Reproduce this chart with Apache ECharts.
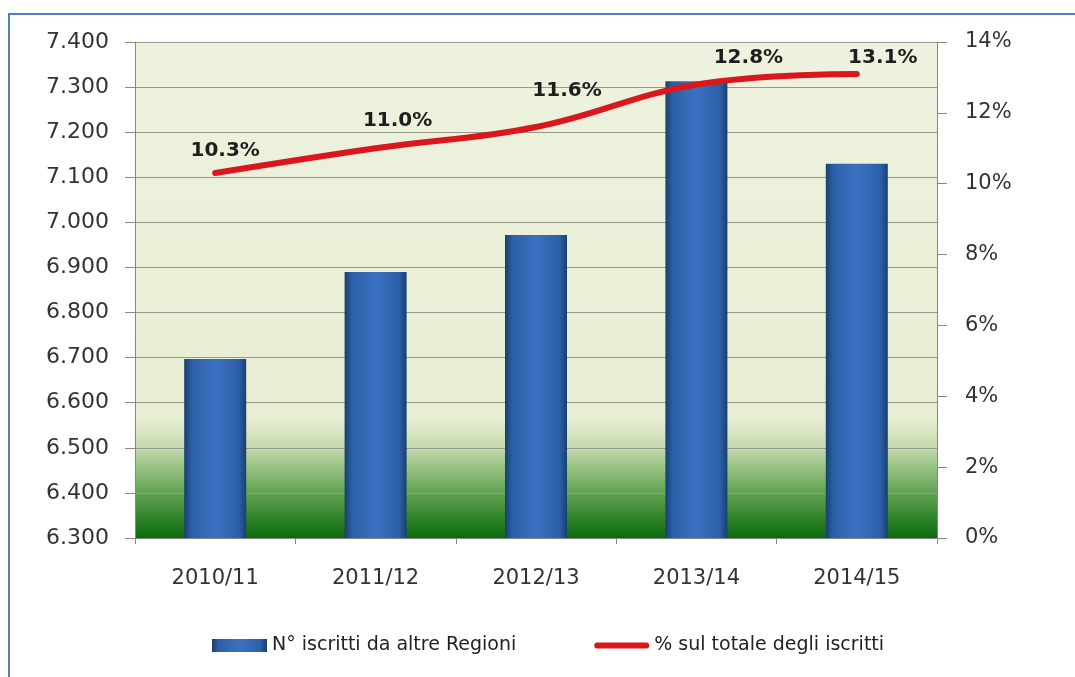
<!DOCTYPE html>
<html>
<head>
<meta charset="utf-8">
<script src="https://cdn.jsdelivr.net/npm/echarts@6/dist/echarts.min.js"></script>
<style>
  html, body { margin: 0; padding: 0; background: #fff; }
  #frame { position: absolute; left: 8px; top: 13px; width: 1067px; height: 664px;
           border-left: 2px solid #4f81bd; border-top: 2px solid #4f81bd; box-sizing: border-box; }
  #chart { position: absolute; left: 0; top: 0; width: 1075px; height: 677px; }
</style>
</head>
<body>
<div id="frame"></div>
<div id="chart"></div>
<script>
  // dati
  var anni = ['2010/11', '2011/12', '2012/13', '2013/14', '2014/15'];
  var iscritti = [6697, 6890, 6972, 7313, 7130];
  var percentuale = [10.3, 11.0, 11.6, 12.8, 13.1];

  // spostamento delle etichette della linea (come nell'originale)
  var spostEtichette = [[10, 0], [22, -5], [31, -14], [52, -4], [26, 6]];

  var myChart = echarts.init(document.getElementById('chart'));

  var fontName = 'DejaVu Sans';
  var rosso = '#d9171c';

  var datiLinea = percentuale.map(function (v, i) {
    return {value: v, label: {offset: spostEtichette[i]}};
  });

  var option = {
    animation: false,
    grid: {
      left: 135, right: 138, top: 42, bottom: 139,
      show: true,
      borderWidth: 0,
      backgroundColor: new echarts.graphic.LinearGradient(0, 0, 0, 1, [
        {offset: 0, color: '#eef2df'},
        {offset: 0.76, color: '#e7eed3'},
        {offset: 0.82, color: '#c3d9ab'},
        {offset: 0.9, color: '#6aa85a'},
        {offset: 1, color: '#0a6a0c'}
      ])
    },
    legend: {
      bottom: 17,
      left: 207,
      itemWidth: 55,
      itemHeight: 13,
      itemGap: 78,
      textStyle: {fontFamily: fontName, fontSize: 19, color: '#222'},
      data: [
        {name: 'N° iscritti da altre Regioni', icon: 'rect'},
        {name: '% sul totale degli iscritti',
          icon: 'path://M3,0 L52,0 A3,3 0 0 1 52,6 L3,6 A3,3 0 0 1 3,0 Z',
          itemStyle: {color: rosso}}
      ]
    },
    xAxis: {
      type: 'category',
      data: anni,
      axisLine: {lineStyle: {color: '#868686', width: 1}},
      axisTick: {show: true, alignWithLabel: false, length: 6, lineStyle: {color: '#868686'}},
      axisLabel: {fontFamily: fontName, fontSize: 21, color: '#333', margin: 30}
    },
    yAxis: [
      {
        type: 'value',
        min: 6300, max: 7400, interval: 100,
        axisLine: {show: true, lineStyle: {color: '#868686'}},
        axisTick: {show: true, length: 10, lineStyle: {color: '#868686'}},
        splitLine: {lineStyle: {color: '#959a8e', width: 1}},
        axisLabel: {
          fontFamily: fontName, fontSize: 22, color: '#333', margin: 26,
          formatter: function (v) { return (v / 1000).toFixed(3); }
        }
      },
      {
        type: 'value',
        min: 0, max: 14, interval: 2,
        position: 'right',
        axisLine: {show: true, lineStyle: {color: '#868686'}},
        axisTick: {show: true, length: 10, lineStyle: {color: '#868686'}},
        splitLine: {show: false},
        axisLabel: {fontFamily: fontName, fontSize: 21, color: '#333', margin: 28,
          formatter: '{value}%'}
      }
    ],
    series: [
      {
        name: 'N° iscritti da altre Regioni',
        type: 'bar',
        data: iscritti,
        barWidth: 62,
        itemStyle: {
          color: new echarts.graphic.LinearGradient(0, 0, 1, 0, [
            {offset: 0, color: '#17406f'},
            {offset: 0.12, color: '#2c5fa6'},
            {offset: 0.5, color: '#3a72c2'},
            {offset: 0.88, color: '#2c5fa6'},
            {offset: 1, color: '#17406f'}
          ])
        }
      },
      {
        name: '% sul totale degli iscritti',
        type: 'line',
        yAxisIndex: 1,
        data: datiLinea,
        smooth: 0.4,
        symbol: 'circle',
        symbolSize: 1,
        lineStyle: {color: rosso, width: 6, cap: 'round'},
        itemStyle: {color: rosso},
        label: {
          show: true,
          position: 'top',
          distance: 12,
          fontFamily: fontName,
          fontWeight: 'bold',
          fontSize: 20,
          color: '#1e1e1e',
          formatter: function (p) { return p.value.toFixed(1) + '%'; }
        }
      }
    ]
  };

  myChart.setOption(option);
</script>
</body>
</html>
